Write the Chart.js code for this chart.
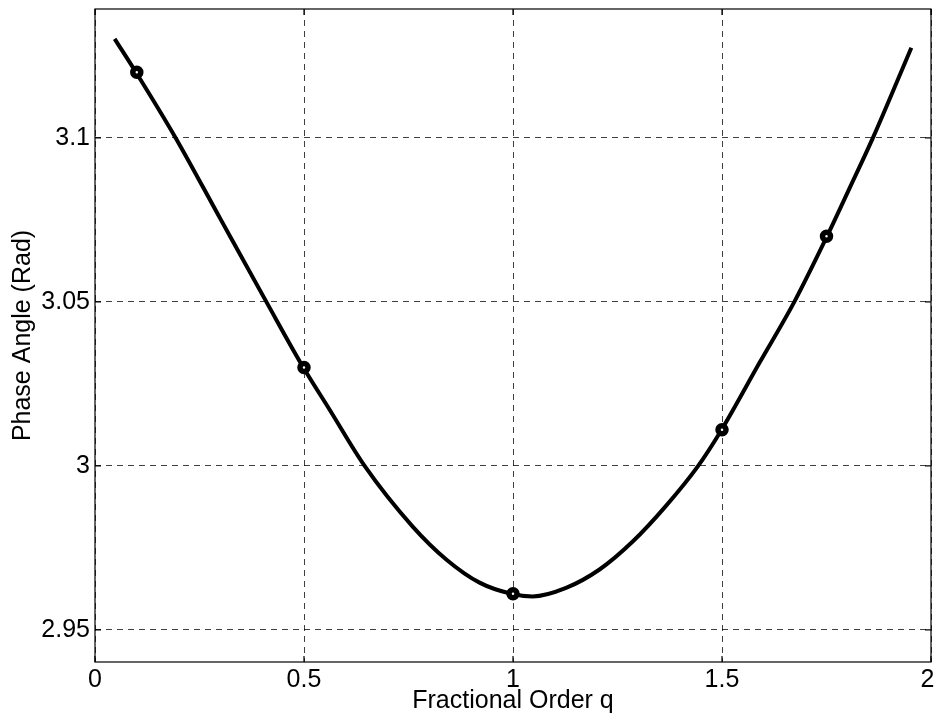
<!DOCTYPE html>
<html>
<head>
<meta charset="utf-8">
<script src="https://cdn.jsdelivr.net/npm/chart.js@4"></script>
<style>
  html, body { margin: 0; padding: 0; background: #fff; }
  canvas { display: block; }
</style>
</head>
<body>
<canvas id="phaseChart" width="935" height="724"></canvas>
<script>
// values
const curveQ = [0.047, 0.099, 0.193, 0.300, 0.410, 0.497, 0.561, 0.645, 0.760, 0.841, 0.920, 0.996, 1.047, 1.127, 1.207, 1.287, 1.366, 1.443, 1.498, 1.590, 1.673, 1.752, 1.805, 1.861, 1.953];
const curvePhase = [3.1302, 3.1198, 3.1, 3.0753, 3.05, 3.0303, 3.0172, 3.0, 2.9815, 2.9714, 2.9644, 2.961, 2.9602, 2.9628, 2.9684, 2.977, 2.9878, 3.0, 3.0108, 3.0315, 3.05, 3.0702, 3.0846, 3.1, 3.1275];
const markerQ = [0.1, 0.5, 1, 1.5, 1.75];
const markerPhase = [3.12, 3.03, 2.961, 3.011, 3.07];
const xTicks = [0, 0.5, 1, 1.5, 2];
const yTicks = [2.95, 3, 3.05, 3.1];

const fontFamily = '"Liberation Sans", Arial, Helvetica, sans-serif';

// box + inward ticks like the original figure
const frame = {
    id: 'frame',
    afterDraw(chart) {
        const {ctx, chartArea: a, scales} = chart;
        ctx.save();
        ctx.strokeStyle = '#000';
        ctx.lineWidth = 1.2;
        ctx.strokeRect(a.left, a.top, a.right - a.left, a.bottom - a.top);
        ctx.beginPath();
        xTicks.forEach(v => {
            const x = scales.x.getPixelForValue(v);
            ctx.moveTo(x, a.bottom); ctx.lineTo(x, a.bottom - 6);
            ctx.moveTo(x, a.top); ctx.lineTo(x, a.top + 6);
        });
        yTicks.forEach(v => {
            const y = scales.y.getPixelForValue(v);
            ctx.moveTo(a.left, y); ctx.lineTo(a.left + 6, y);
            ctx.moveTo(a.right, y); ctx.lineTo(a.right - 6, y);
        });
        ctx.stroke();
        ctx.restore();
    }
};

const ctx = document.getElementById('phaseChart');

const chart = new Chart(ctx, {
    type: 'scatter',
    data: {
        datasets: [
            {
                label: 'curve',
                data: curveQ.map((q, i) => ({x: q, y: curvePhase[i]})),
                showLine: true,
                borderColor: '#000',
                borderWidth: 4,
                pointRadius: 0,
                cubicInterpolationMode: 'monotone',
                order: 2
            },
            {
                label: 'points',
                data: markerQ.map((q, i) => ({x: q, y: markerPhase[i]})),
                showLine: false,
                pointRadius: 4,
                pointBorderWidth: 5.5,
                pointBorderColor: '#000',
                pointBackgroundColor: '#fff',
                order: 1
            }
        ]
    },
    options: {
        responsive: false,
        animation: false,
        layout: {
            autoPadding: false,
            padding: {top: 9, right: 4, left: 0, bottom: 0}
        },
        plugins: {
            legend: {display: false},
            tooltip: {enabled: false}
        },
        scales: {
            x: {
                type: 'linear',
                min: 0,
                max: 2,
                afterBuildTicks: (scale) => { scale.ticks = xTicks.map(v => ({value: v})); },
                afterFit: (scale) => {
                    scale.height = 62;
                    scale.paddingLeft = 0;
                    scale.paddingRight = 0;
                },
                grid: {
                    color: 'rgba(0,0,0,0.75)',
                    lineWidth: 1,
                    drawTicks: false
                },
                border: {display: false, dash: [6, 5]},
                ticks: {
                    color: '#000',
                    padding: 3,
                    maxRotation: 0,
                    font: {family: fontFamily, size: 25},
                    // last label sits a bit left so it is not cut by the canvas edge
                    callback: (v, i) => i === xTicks.length - 1 ? String(v) + ' ' : String(v)
                },
                title: {
                    display: true,
                    text: 'Fractional Order q',
                    color: '#000',
                    padding: {top: 0, bottom: 8},
                    font: {family: fontFamily, size: 25}
                }
            },
            y: {
                type: 'linear',
                min: 2.9402,
                max: 3.1393,
                afterBuildTicks: (scale) => { scale.ticks = yTicks.map(v => ({value: v})); },
                afterFit: (scale) => {
                    scale.width = 95;
                    scale.paddingTop = 0;
                    scale.paddingBottom = 0;
                },
                grid: {
                    color: 'rgba(0,0,0,0.75)',
                    lineWidth: 1,
                    drawTicks: false
                },
                border: {display: false, dash: [6, 5]},
                ticks: {
                    color: '#000',
                    padding: 5,
                    font: {family: fontFamily, size: 25},
                    callback: (v) => String(v)
                },
                title: {
                    display: true,
                    text: 'Phase Angle (Rad)',
                    color: '#000',
                    padding: {top: 8, bottom: 0},
                    font: {family: fontFamily, size: 25}
                }
            }
        }
    },
    plugins: [frame]
});
</script>
</body>
</html>
